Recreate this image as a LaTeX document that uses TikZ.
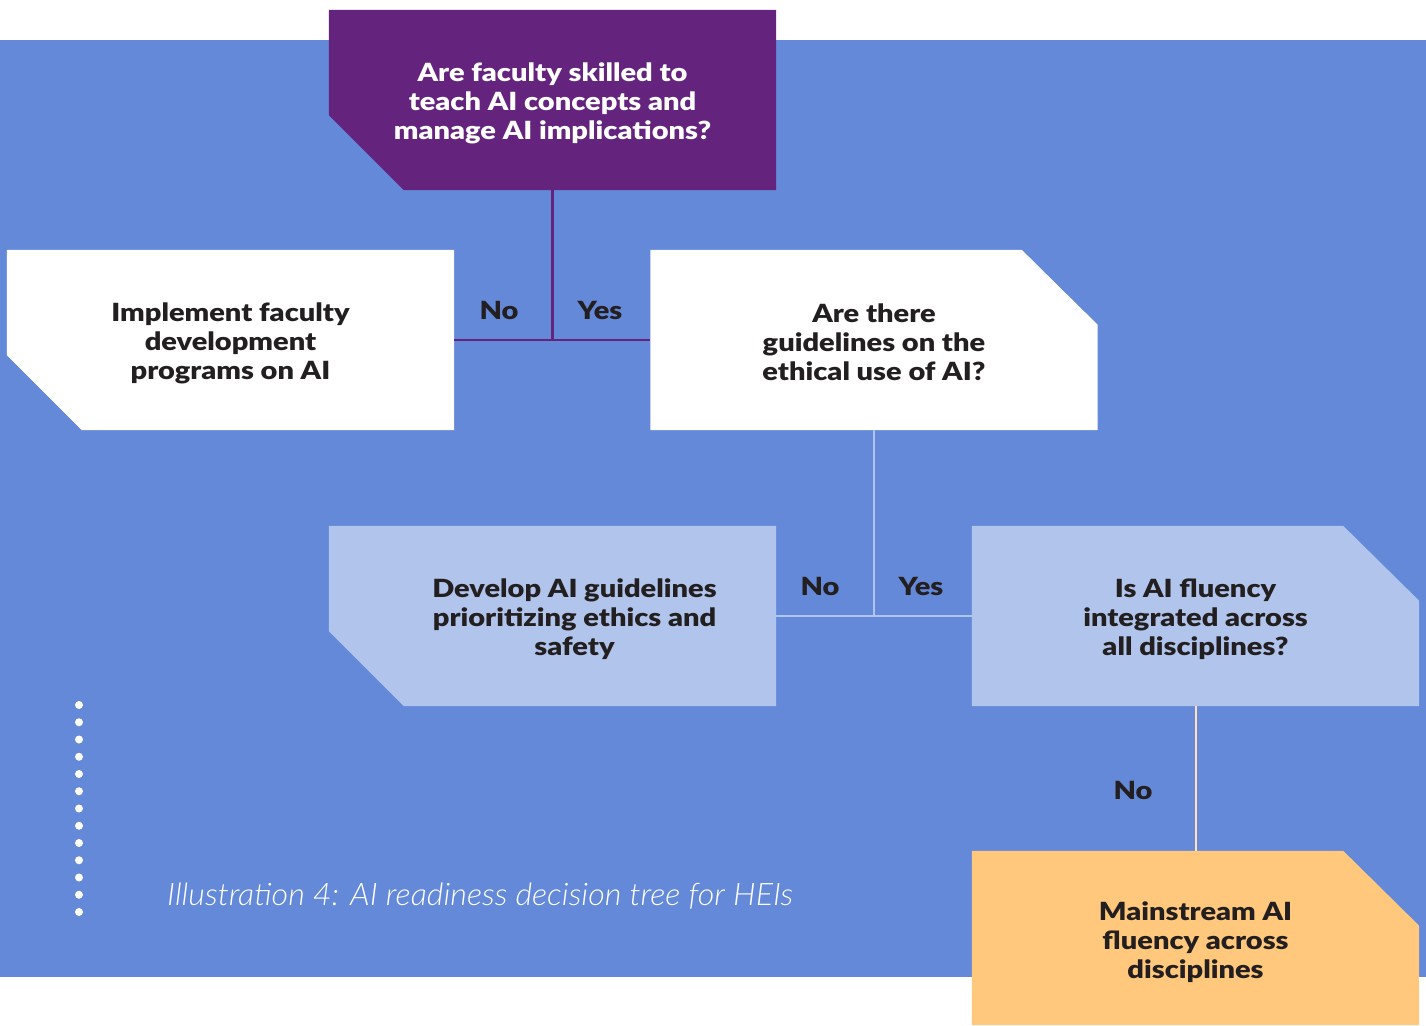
\documentclass[tikz,border=0pt]{standalone}
\usepackage{fontspec}
\setmainfont{Lato}
\IfFontExistsTF{Lato Black}
  {\newfontfamily\boxfam{Lato Black}[FakeStretch=1.16]}
  {\newfontfamily\boxfam{Lato}[FakeStretch=1.20,UprightFont=*-Bold]}
\IfFontExistsTF{Lato Light Italic}
  {\newfontfamily\capfont{Lato Light Italic}[FakeStretch=1.04]}
  {\newfontfamily\capfont{Lato Italic}[FakeStretch=1.04]}
\definecolor{bgblue}{RGB}{100,137,216}
\definecolor{qpurple}{RGB}{100,36,126}
\definecolor{lblue}{RGB}{176,196,236}
\definecolor{qyellow}{RGB}{255,200,124}
\definecolor{pyellow}{RGB}{255,226,184}
\definecolor{ink}{RGB}{35,31,32}
\pgfdeclarelayer{back}
\pgfsetlayers{back,main}
\newcommand{\boxfont}{\fontsize{25}{29}\selectfont\boxfam}
\begin{document}
\begin{tikzpicture}[x=1pt,y=-1pt,
  box/.style={inner sep=0pt, minimum width=447pt, minimum height=180pt},
  txt/.style={inner sep=0pt, align=center, font=\boxfont, text=ink},
  lbl/.style={inner sep=0pt, font=\boxfont, text=ink},
  pline/.style={draw=qpurple, line width=2.5pt},
  bline/.style={draw=lblue, line width=2pt},
  yline/.style={draw=pyellow, line width=2pt}]
\useasboundingbox (0,0) rectangle (1426,1025);
\begin{pgfonlayer}{back}
  \fill[white] (0,0) rectangle (1426,1025);
  \fill[bgblue] (0,40) rectangle (1426,977);
\end{pgfonlayer}

% box outlines (nodes)
\node[box] (q1) at (552.5,100) {};
\node[box] (a1) at (230.5,340) {};
\node[box] (q2) at (874,340) {};
\node[box] (a2) at (552.5,616) {};
\node[box] (q3) at (1195.5,616) {};
\node[box, minimum height=174pt] (a3) at (1195.5,938) {};

% shapes
\fill[qpurple] (q1.north west) -- (q1.north east) -- (q1.south east)
  -- ([xshift=75pt]q1.south west) -- ([yshift=75pt]q1.south west) -- cycle;
\fill[white] (a1.north west) -- (a1.north east) -- (a1.south east)
  -- ([xshift=75pt]a1.south west) -- ([yshift=75pt]a1.south west) -- cycle;
\fill[white] (q2.north west) -- ([xshift=-76pt]q2.north east)
  -- ([yshift=-75pt]q2.north east) -- (q2.south east) -- (q2.south west) -- cycle;
\fill[lblue] (a2.north west) -- (a2.north east) -- (a2.south east)
  -- ([xshift=75pt]a2.south west) -- ([yshift=75pt]a2.south west) -- cycle;
\fill[lblue] (q3.north west) -- ([xshift=-76pt]q3.north east)
  -- ([yshift=-75pt]q3.north east) -- (q3.south east) -- (q3.south west) -- cycle;
\fill[qyellow] (a3.north west) -- ([xshift=-76pt]a3.north east)
  -- ([yshift=-75pt]a3.north east) -- (a3.south east) -- (a3.south west) -- cycle;

% texts
\node[txt, text=white] (q1t) at ([yshift=-3pt]q1.center) {Are faculty skilled to\\teach AI concepts and\\manage AI implications?};
\node[txt] (a1t) at ([yshift=-3pt]a1.center) {Implement faculty\\development\\programs on AI};
\node[txt] (q2t) at ([yshift=-2pt]q2.center) {Are there\\guidelines on the\\ethical use of AI?};
\node[txt] (a2t) at ([xshift=22pt,yshift=-3pt]a2.center) {Develop AI guidelines\\prioritizing ethics and\\safety};
\node[txt] (q3t) at ([yshift=-3pt]q3.center) {Is AI fluency\\integrated across\\all disciplines?};
\node[txt] (a3t) at ([yshift=-4pt]a3.center) {Mainstream AI\\fluency across\\disciplines};

% connectors
\coordinate (j1) at (q1.south |- a1.east);
\coordinate (j2) at (q2.south |- a2.east);
\draw[pline] (q1.south) -- (j1);
\draw[pline] (a1.east) -- (q2.west);
\draw[bline] (q2.south) -- (j2);
\draw[bline] (a2.east) -- (q3.west);
\draw[yline] (q3.south) -- (a3.north);

% labels
\node[lbl] (no1) at (499,310) {No};
\node[lbl] (yes1) at (600,310) {Yes};
\node[lbl] (no2) at (820,586) {No};
\node[lbl] (yes2) at (921,586) {Yes};
\node[lbl] (no3) at (1133,790) {No};

% dots
\foreach \i in {0,...,12}
  \fill[white] (79,{705+17.25*\i}) circle (4pt);

% caption
\node[inner sep=0pt, anchor=base west, text=white,
  font=\fontsize{31}{34}\selectfont\capfont] (cap) at (167,905)
  {Illustration 4: AI readiness decision tree for HEIs};
\end{tikzpicture}
\end{document}
